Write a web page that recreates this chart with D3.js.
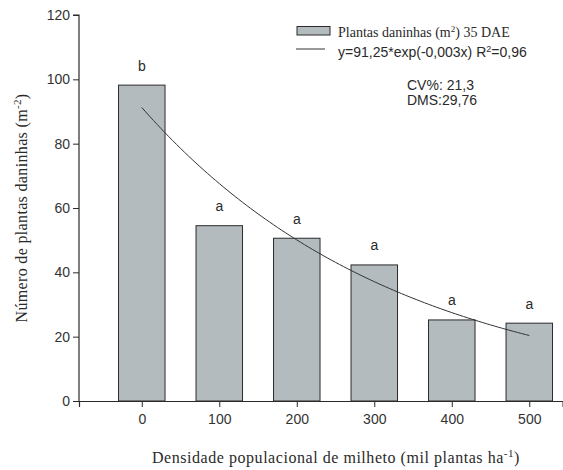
<!DOCTYPE html>
<html>
<head>
<meta charset="utf-8">
<script src="https://cdn.jsdelivr.net/npm/d3@7"></script>
<style>
  html, body { margin: 0; padding: 0; background: #fff; }
  svg { display: block; }
</style>
</head>
<body>
<div id="chart"></div>
<script>
// Weed density (plants m^-2) at 35 DAE under increasing millet population
const densities = [0, 100, 200, 300, 400, 500];
const weeds = [98.2, 54.5, 50.6, 42.3, 25.2, 24.2];
const letters = ["b", "a", "a", "a", "a", "a"];
const yTicks = [0, 20, 40, 60, 80, 100, 120];
const fitA = 91.25, fitB = -0.003;

const W = 563, H = 470;
const svg = d3.select("#chart").append("svg").attr("width", W).attr("height", H);

const sans = "'Liberation Sans', Arial, sans-serif";
const serif = "'Liberation Serif', 'Times New Roman', serif";
const ink = "#2a2a2a";

const x = d3.scaleLinear().domain([-81, 543]).range([79, 562.6]);
const y = d3.scaleLinear().domain([0, 120]).range([401, 15]);
const barW = 60; // bar width in x units

// Bars
svg.append("g").selectAll("rect")
  .data(densities)
  .join("rect")
  .attr("x", (d) => x(d - barW / 2))
  .attr("y", (d, i) => y(weeds[i]))
  .attr("width", x(barW) - x(0))
  .attr("height", (d, i) => y(0) - y(weeds[i]))
  .attr("fill", "#b4bbbf")
  .attr("stroke", ink)
  .attr("stroke-width", 1);

// Significance letters
svg.append("g").selectAll("text")
  .data(densities)
  .join("text")
  .attr("x", (d) => x(d))
  .attr("y", (d, i) => y(weeds[i] + 4.5))
  .attr("text-anchor", "middle")
  .attr("font-family", sans)
  .attr("font-size", 14)
  .attr("fill", ink)
  .text((d, i) => letters[i]);

// Exponential fit
const fitXs = d3.range(0, 501, 5);
svg.append("path")
  .datum(fitXs)
  .attr("fill", "none")
  .attr("stroke", "#333")
  .attr("stroke-width", 1)
  .attr("d", d3.line().x((d) => x(d)).y((d) => y(fitA * Math.exp(fitB * d))));

// Axes
const yAxis = d3.axisLeft(y).tickValues(yTicks).tickSize(6).tickPadding(3);
const gy = svg.append("g").attr("transform", `translate(${x(-81)},0)`).call(yAxis);
const xAxis = d3.axisBottom(x).tickValues(densities).tickSize(6).tickPadding(7);
const gx = svg.append("g").attr("transform", `translate(0,${y(0)})`).call(xAxis);
[gx, gy].forEach((g) => {
  g.select(".domain").attr("stroke", ink).attr("stroke-width", 1.2);
  g.selectAll(".tick line").attr("stroke", ink);
  g.selectAll(".tick text").attr("font-family", sans).attr("font-size", 14).attr("fill", "#333");
});
gy.select(".domain").attr("d", `M-6,${y(120)}H0V${y(0)}`);

// Axis titles
const yTitle = svg.append("text")
  .attr("transform", `translate(27,208) rotate(-90)`)
  .attr("text-anchor", "middle")
  .attr("font-family", serif)
  .attr("font-size", 16)
  .attr("fill", ink);
yTitle.append("tspan").text("Número de plantas daninhas (m");
yTitle.append("tspan").attr("dy", -6).attr("font-size", 11).text("-2");
yTitle.append("tspan").attr("dy", 6).text(")");

const xTitle = svg.append("text")
  .attr("x", 336).attr("y", 463)
  .attr("text-anchor", "middle")
  .attr("font-family", serif)
  .attr("font-size", 16)
  .attr("fill", ink);
xTitle.append("tspan").text("Densidade populacional de milheto (mil plantas ha");
xTitle.append("tspan").attr("dy", -6).attr("font-size", 11).text("-1");
xTitle.append("tspan").attr("dy", 6).text(")");

// Stretch titles to their printed widths
function fitWidth(sel, target) {
  const w = sel.node().getComputedTextLength();
  sel.attr("letter-spacing", ((target - w) / sel.text().length).toFixed(3));
}
fitWidth(xTitle, 368);
fitWidth(yTitle, 229);

// Legend
const lg = svg.append("g");
lg.append("rect").attr("x", 297).attr("y", 26.5).attr("width", 33).attr("height", 8.5)
  .attr("fill", "#b4bbbf").attr("stroke", ink).attr("stroke-width", 1);
const l1 = lg.append("text").attr("x", 338).attr("y", 37)
  .attr("font-family", serif).attr("font-size", 14).attr("fill", ink);
l1.append("tspan").text("Plantas daninhas (m");
l1.append("tspan").attr("dy", -5).attr("font-size", 9).text("2");
l1.append("tspan").attr("dy", 5).text(") 35 DAE");

lg.append("line").attr("x1", 296).attr("x2", 325).attr("y1", 49).attr("y2", 49)
  .attr("stroke", "#333").attr("stroke-width", 1);
const l2 = lg.append("text").attr("x", 338).attr("y", 57)
  .attr("font-family", sans).attr("font-size", 14).attr("fill", ink);
l2.append("tspan").text("y=91,25*exp(-0,003x) R");
l2.append("tspan").attr("dy", -5).attr("font-size", 9).text("2");
l2.append("tspan").attr("dy", 5).text("=0,96");

svg.append("text").attr("x", 407).attr("y", 90)
  .attr("font-family", sans).attr("font-size", 14).attr("fill", ink).text("CV%: 21,3");
svg.append("text").attr("x", 407).attr("y", 105)
  .attr("font-family", sans).attr("font-size", 14).attr("fill", ink).text("DMS:29,76");
</script>
</body>
</html>
